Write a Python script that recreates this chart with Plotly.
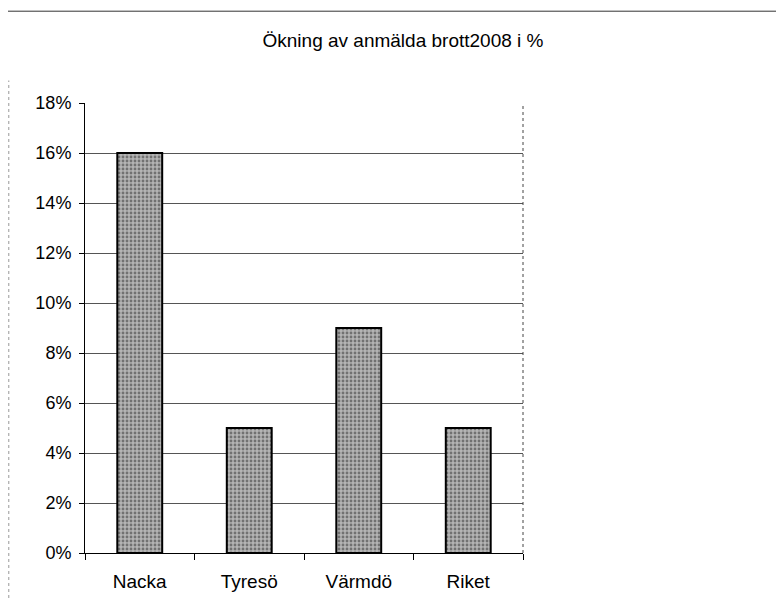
import plotly.graph_objects as go

categories = ["Nacka", "Tyresö", "Värmdö", "Riket"]
values = [0.16, 0.05, 0.09, 0.05]
y_ticks = [0, 0.02, 0.04, 0.06, 0.08, 0.10, 0.12, 0.14, 0.16, 0.18]
y_tick_labels = ["0%", "2%", "4%", "6%", "8%", "10%", "12%", "14%", "16%", "18%"]
title_text = "Ökning av anmälda brott2008 i %"

fig = go.Figure()
fig.add_trace(go.Bar(
    x=categories, y=values, width=0.41,
    marker=dict(color="#9c9c9c", line=dict(color="black", width=2),
                pattern=dict(shape=".", fgcolor="#2e2e2e", bgcolor="#b4b4b4", size=4, solidity=0.4)),
))

fig.update_layout(
    width=776, height=603,
    margin=dict(l=77, r=261, t=95, b=58),
    paper_bgcolor="white", plot_bgcolor="white",
    showlegend=False,
    font=dict(family="Liberation Sans, Arial, sans-serif", size=18, color="black"),
    title=dict(text=title_text, x=0.509, xanchor="center", y=0.947, yanchor="middle",
               font=dict(size=19)),
)
fig.update_xaxes(
    showline=True, linecolor="black", linewidth=1, mirror=False,
    ticks="outside", tickson="boundaries", ticklen=6, tickcolor="black",
    ticklabelstandoff=11, showgrid=False,
    tickfont=dict(size=19),
)
fig.update_yaxes(
    range=[0, 0.18], tickvals=y_ticks, ticktext=y_tick_labels,
    showline=True, linecolor="black", linewidth=1,
    ticks="outside", ticklen=5, tickcolor="black",
    ticklabelstandoff=4,
    showgrid=True, gridcolor="#555555", gridwidth=1,
    tickfont=dict(size=18), zeroline=False,
)
# right border of plot area (dotted, as in scan)
fig.add_shape(type="line", xref="paper", yref="paper", x0=1, x1=1, y0=0, y1=1,
              line=dict(color="#444444", width=1, dash="dot"))
# top scan edge line
fig.add_shape(type="line", xref="paper", yref="paper", x0=-0.2, x1=1.6, y0=1.204, y1=1.204,
              line=dict(color="#333333", width=1))
# faint left scan edge
fig.add_shape(type="line", xref="paper", yref="paper", x0=-0.174, x1=-0.174, y0=-0.1, y1=1.05,
              line=dict(color="#999999", width=1, dash="dot"))

fig.write_html("out.html")
